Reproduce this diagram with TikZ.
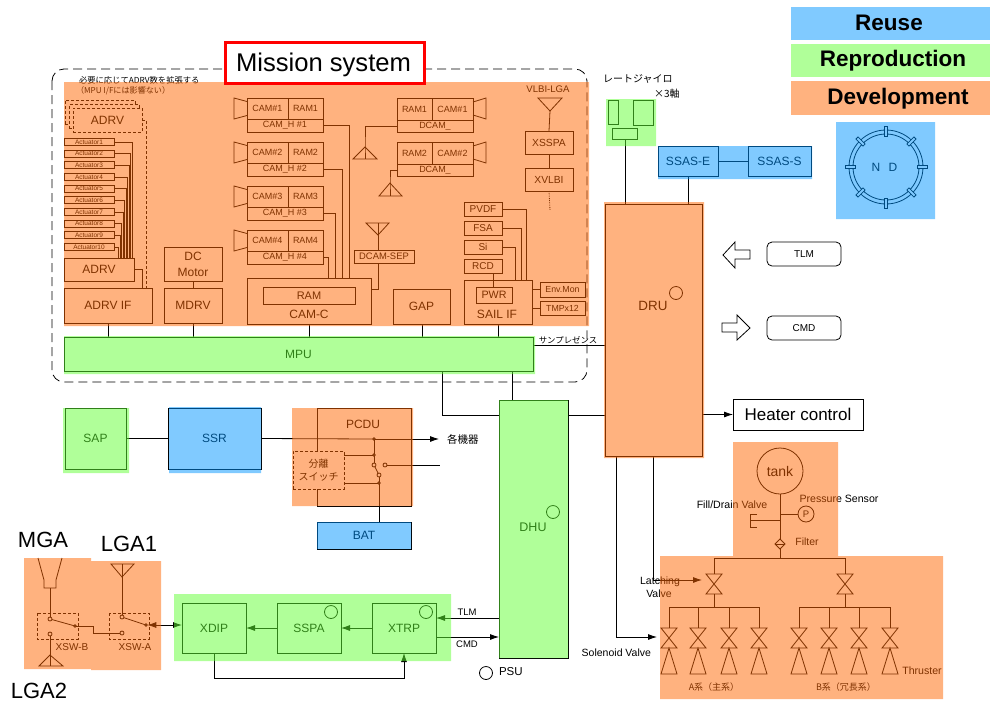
\documentclass[tikz,border=0pt]{standalone}
\usepackage{fontspec}
\setmainfont{Liberation Sans}
\newfontfamily\jp{Noto Sans CJK JP}
\usetikzlibrary{arrows.meta,calc}
\newcommand\fs[1]{\fontsize{#1}{#1}\selectfont}
\definecolor{ovO}{HTML}{FF6500}
\definecolor{ovG}{HTML}{61FF33}
\definecolor{ovB}{HTML}{0195FF}
\tikzset{
 bx/.style={draw,rectangle,inner sep=0pt,outer sep=0pt,align=center,font=\fs{12}},
 lbl/.style={inner sep=0pt,outer sep=0pt,align=center},
 sw/.style={draw,circle,fill=white,inner sep=0pt,minimum size=4pt,outer sep=0pt},
 dot/.style={draw,circle,fill=white,inner sep=0pt,minimum size=2.6pt,outer sep=0pt},
 ring/.style={draw,circle,inner sep=0pt,minimum size=13pt,outer sep=0pt},
 tip/.style={-{Latex[length=9pt,width=6pt]}},
 ovo/.style={fill=ovO,fill opacity=.5,draw=none},
 ovg/.style={fill=ovG,fill opacity=.5,draw=none},
 ovb/.style={fill=ovB,fill opacity=.5,draw=none},
 legend/.style={inner sep=0pt,font=\bfseries\fs{22.5}},
}
\newcommand\bx[7][]{\node[bx,#1,minimum width={((#5)-(#3))*1pt},minimum height={((#6)-(#4))*1pt}] (#2) at ({((#3)+(#5))/2},{((#4)+(#6))/2}) {#7};}
\begin{document}
\begin{tikzpicture}[x=1pt,y=-1pt,line width=.8pt]
\useasboundingbox (0,0) rectangle (994,702);
% mission outline
\draw[dash pattern=on 9pt off 5pt,rounded corners=12pt] (52,69) rectangle (587,382);
\node[lbl,font=\jp\fs{8.3},anchor=west] (note1) at (79,80) {必要に応じてADRV数を拡張する};
\node[lbl,font=\jp\fs{8.1},anchor=west] (note2) at (76,91) {（MPU I/Fには影響ない）};
% ADRV stack
\bx[fill=white,densely dashed]{adrvc}{65}{100}{135}{124}{}
\bx[fill=white,densely dashed]{adrvb}{69}{104.5}{139}{128}{}
\bx[fill=white,densely dashed]{adrva}{73}{108}{142}{132}{ADRV}
% actuators and drive
\bx{adrv}{64}{258}{134}{281}{ADRV}
\bx{adrvif}{64}{288}{152}{323}{ADRV IF}
\foreach \i/\y/\wx in {1/142/132,2/153.7/130.5,3/165.3/129,4/177/127.5,5/188.7/126,6/200.3/124.5,7/212/123,8/223.7/121.5,9/235.3/120,10/247/118.5}{
 \bx[font=\fs{6.5}]{act\i}{64}{\y-3.5}{114}{\y+3.5}{Actuator\i}
 \draw (act\i.east) -| (\wx,0 |- adrv.north);
}
\draw (adrv.east) -| (142,0 |- adrvif.north);
\draw[densely dashed] (adrva.east) -| (146,0 |- adrvif.north);
\bx{dcm}{164}{247}{222}{281}{DC\\[4pt]Motor}
\bx{mdrv}{164}{288}{222}{323}{MDRV}
\draw (dcm.south) -- (mdrv.north);
\bx{mpu}{64}{337}{533}{371}{MPU}
\draw (108,0 |- adrvif.south) -- (108,0 |- mpu.north);
\draw (193,0 |- mdrv.south) -- (193,0 |- mpu.north);
% CAM heads
\foreach \n/\y in {1/98,2/142,3/186,4/230}{
 \bx[font=\fs{9}]{cam\n}{247}{\y}{288}{\y+21}{CAM\#\n}
 \bx[font=\fs{9}]{ram\n}{288}{\y}{323}{\y+21}{RAM\n}
 \bx[font=\fs{9}]{camh\n}{247}{\y+21}{323}{\y+34}{CAM\_H \#\n}
 \draw (cam\n.north west)++(0,3.5) -- ++(-13,-3.5) -- ++(0,21) -- ++(13,-3.5);
}
\bx{camc}{247}{278}{371}{324}{}
\bx[font=\fs{11}]{camram}{263}{287}{355}{304}{RAM}
\node[lbl,font=\fs{12}] (camclab) at (309,314) {CAM-C};
\draw (camh1.east) -| (349,0 |- camc.north);
\draw (camh2.east) -| (342,0 |- camc.north);
\draw (camh3.east) -| (335,0 |- camc.north);
\draw (camh4.east) -| (328,0 |- camc.north);
\draw (camc.south) -- (309,0 |- mpu.north);
% DCAM
\foreach \n/\y in {1/98,2/142}{
 \bx[font=\fs{9}]{dram\n}{397}{\y}{432}{\y+22}{RAM\n}
 \bx[font=\fs{9}]{dcam\n}{432}{\y}{473}{\y+22}{CAM\#\n}
 \bx[font=\fs{9}]{dcamh\n}{397}{\y+22}{473}{\y+34}{DCAM\_}
 \draw (dcam\n.north east)++(0,4) -- ++(13,-4) -- ++(0,21) -- ++(-13,-4);
}
\coordinate (ant1) at (365,147);
\coordinate (ant2) at (390,183);
\draw (dcamh1.west) -| (ant1) -- (365,159);
\draw (ant1) -- (353,159) -- (377,159) -- cycle;
\draw (dcamh2.west) -| (ant2) -- (390,196);
\draw (ant2) -- (379,196) -- (402,196) -- cycle;
\bx[font=\fs{9.4}]{dsep}{354}{250}{414}{263}{DCAM-SEP}
\coordinate (ant3) at (378,235);
\draw (ant3) -- (366,223) -- (389,223) -- cycle;
\draw (378,223) -- (378,0 |- dsep.north);
\coordinate (dsepc) at (371,289);
\draw (378,0 |- dsep.south) |- (dsepc);
% GAP
\bx{gap}{393}{289}{450}{324}{GAP}
\draw (422,0 |- gap.south) -- (422,0 |- mpu.north);
% SAIL
\bx{sail}{464}{280}{532}{324}{}
\bx[font=\fs{10.7}]{pwr}{476}{287}{512}{303}{PWR}
\node[lbl,font=\fs{12}] (saillab) at (497,314) {SAIL IF};
\draw (498,0 |- sail.south) -- (498,0 |- mpu.north);
\bx[font=\fs{10}]{rcd}{464}{259}{502}{273}{RCD}
\bx[font=\fs{10}]{si}{464}{240}{502}{254}{Si}
\bx[font=\fs{10}]{fsa}{464}{221}{502}{235}{FSA}
\bx[font=\fs{10}]{pvdf}{464}{202}{502}{216}{PVDF}
\draw (493,0 |- rcd.south) -- (493,0 |- pwr.north);
\draw (si.east) -| (515,0 |- sail.north);
\draw (fsa.east) -| (521,0 |- sail.north);
\draw (pvdf.east) -| (526,0 |- sail.north);
\bx[font=\fs{8.8}]{env}{540}{282}{585}{297}{Env.Mon}
\bx[font=\fs{8.8}]{tmp}{540}{301}{585}{315}{TMPx12}
\draw (env.west) -- (sail.east |- env.west);
\draw (tmp.west) -- (sail.east |- tmp.west);
% VLBI
\node[lbl,font=\fs{9.6}] (vlbi) at (548,89) {VLBI-LGA};
\bx[font=\fs{10.3}]{xsspa}{525}{131}{573}{154}{XSSPA}
\bx[font=\fs{10.3}]{xvlbi}{525}{168}{573}{191}{XVLBI}
\coordinate (ant4) at (550,111);
\draw (ant4) -- (538,98) -- (562,98) -- cycle;
\draw (ant4) -- (xsspa.north);
\draw (xsspa.south) -- (xvlbi.south |- xvlbi.north);
\coordinate (xend) at (550,210);
\draw[densely dotted] (xvlbi.south) -- (xend);
% DRU DHU
\bx[font=\fs{13.4}]{dru}{605}{204}{702}{456}{}
\node[lbl,font=\fs{13.4}] (drulab) at (653,306) {DRU};
\node[ring] (drur) at (676,293) {};
\bx[font=\fs{12.5}]{dhu}{499}{400}{568}{658}{}
\node[lbl,font=\fs{12.5}] (dhulab) at (533,527) {DHU};
\node[ring] (dhur) at (553,512) {};
\draw (mpu.east |- 0,345) -- (dru.west |- 0,345);
\node[lbl,font=\jp\fs{8.4}] (samp) at (568,340) {サンプレゼンス};
\draw (442,0 |- mpu.south) |- (dhu.west |- 0,415);
\draw (512,0 |- mpu.south) -- (512,0 |- dhu.north);
\draw (dhu.east |- 0,415) -- (dru.west |- 0,415);
% rate gyro
\node[lbl,font=\jp\fs{10},anchor=west] (gyro) at (603,79) {レートジャイロ};
\node[lbl,font=\jp\fs{10},anchor=west] (gyro3) at (654,94) {×3軸};
\bx{rg1}{608}{100}{618}{124}{}
\bx{rg2}{633}{100}{653}{125}{}
\bx{rg3}{612}{128}{637}{139}{}
\draw (625,0 |- rg3.south) -- (625,0 |- dru.north);
% SSAS
\bx{ssase}{658}{146}{718}{176}{SSAS-E}
\bx{ssass}{748}{146}{811}{176}{SSAS-S}
\draw (ssase.east) -- (ssass.west);
\draw (688,0 |- ssase.south) -- (688,0 |- dru.north);
% ND
\coordinate (ndc) at (886,167);
\draw (ndc) circle (37) (ndc) circle (33);
\foreach \a in {0,45,...,315}{
 \draw[fill=white,rotate around={\a:(ndc)}] (884.5,126) rectangle (887.5,136);
}
\node[lbl,font=\fs{12}] (ndn) at (876,167) {N};
\node[lbl,font=\fs{12}] (ndd) at (893,167) {D};
% TLM CMD
\draw (723,255) -- (735,242) -- (735,250) -- (750,250) -- (750,259) -- (735,259) -- (735,268) -- cycle;
\draw (722,323) -- (737,323) -- (737,315) -- (750,328) -- (737,340) -- (737,332) -- (722,332) -- cycle;
\bx[rounded corners=5pt,font=\fs{10}]{tlmr}{767}{242}{841}{266}{TLM}
\bx[rounded corners=5pt,font=\fs{10}]{cmdr}{767}{316}{841}{340}{CMD}
\bx[font=\fs{17}]{heat}{733}{399}{863}{430}{Heater control}
\draw[tip] (dru.east |- heat.west) -- (heat.west);
% SAP SSR PCDU BAT
\bx{sap}{65}{408}{126}{469}{SAP}
\bx{ssr}{168}{408}{261}{469}{SSR}
\draw (sap.east) -- (ssr.west);
\bx{pcdu}{317}{408}{411}{506}{}
\node[lbl,font=\fs{12}] (pcdulab) at (363,424) {PCDU};
\bx[font=\jp\fs{10},fill=white,densely dashed]{sepsw}{293}{451}{344}{489}{分離\\[3pt]スイッチ}
\bx{bat}{317}{522}{411}{549}{BAT}
\coordinate (pout) at (439,439);
\node[lbl,font=\jp\fs{10.5},anchor=west] (devs) at (447,439) {各機器};
\node[dot] (pd1) at (374,439) {};
\node[dot] (pd2) at (374,455) {};
\node[sw] (ps1) at (374,465) {};
\node[sw] (ps2) at (379,475) {};
\node[sw] (ps3) at (385,465) {};
\node[dot] (pd3) at (379,483) {};
\draw (ssr.east) -- (pd1.west);
\draw[tip] (pd1.east) -- (pout);
\draw (pd1.south) -- (pd2.north);
\draw (pd2.south) -- (ps1.north);
\draw (ps1) -- (ps2);
\draw (ps2.south) -- (pd3.north);
\draw (pd3.south) -- (379,0 |- bat.north);
\draw (sepsw.east |- pd2) -- (pd2.west);
\draw (sepsw.east |- pd3) -- (pd3.west);
\coordinate (pr) at (440,465);
\draw (ps3.east) -- (pr);
% RF
\node[lbl,font=\fs{22}] (mga) at (43,540) {MGA};
\node[lbl,font=\fs{22}] (lga1) at (129,544) {LGA1};
\node[lbl,font=\fs{22}] (lga2) at (39,691) {LGA2};
\draw (38,558) -- (44,580) -- (44,588) -- (56,588) -- (56,580) -- (62,558);
\draw[densely dashed] (37,613) rectangle (78,639);
\draw[densely dashed] (109,613) rectangle (149,639);
\node[sw] (b1) at (50,619) {};
\node[sw] (b2) at (50,634) {};
\node[dot] (b3) at (75,626) {};
\node[sw] (a1) at (122,617) {};
\node[sw] (a2) at (122,633) {};
\node[dot] (a3) at (146,625) {};
\coordinate (mgab) at (50,588);
\coordinate (lga2a) at (50,655);
\coordinate (lga1a) at (122,577);
\draw (mgab) -- (b1.north);
\draw (b1) -- (b3);
\draw (a1) -- (a3);
\draw (b2.south) -- (50,666);
\draw (lga2a) -- (39,666) -- (63,666) -- cycle;
\draw (a1.north) -- (122,564);
\draw (lga1a) -- (111,564) -- (134,564) -- cycle;
\draw (b3.east) -| (93,633) -- (a2.west);
\node[lbl,font=\fs{10}] (xswb) at (72,647) {XSW-B};
\node[lbl,font=\fs{10}] (xswa) at (135,647) {XSW-A};
\bx{xdip}{182}{603}{246}{653}{XDIP}
\bx{sspa}{277}{603}{341}{653}{SSPA}
\bx{xtrp}{372}{603}{436}{653}{XTRP}
\node[ring] (sspar) at (331,612) {};
\node[ring] (xtrpr) at (426,612) {};
\draw[{Latex[length=9pt,width=6pt]}-{Latex[length=9pt,width=6pt]}] (a3.east) -- (xdip.west |- a3.east);
\draw[tip] (xtrp.west) -- (sspa.east);
\draw[tip] (sspa.west) -- (xdip.east);
\draw[tip] (214,0 |- xdip.south) |- (404,678) -- (404,0 |- xtrp.south);
\draw[tip] (dhu.west |- 0,618) -- (xtrp.east |- 0,618);
\draw[tip] (xtrp.east |- 0,637) -- (dhu.west |- 0,637);
\node[lbl,font=\fs{9.5}] (tlml) at (467,612) {TLM};
\node[lbl,font=\fs{9.5}] (cmdl) at (467,644) {CMD};
\node[ring] (psur) at (486,673) {};
\node[lbl,font=\fs{11.5},anchor=west] (psu) at (499,672) {PSU};
% propulsion
\node[draw,circle,minimum size=46pt,inner sep=0pt,outer sep=0pt,font=\fs{14}] (tank) at (780,471) {tank};
\node[draw,circle,minimum size=16pt,inner sep=0pt,outer sep=0pt,font=\fs{9.5}] (pres) at (806,514) {P};
\coordinate (fj) at (780,514);
\coordinate (dj) at (780,520);
\coordinate (busj) at (780,558);
\draw (tank.south) -- (busj);
\draw (fj) -- (pres.west);
\draw (dj) -- (750,520);
\draw (757,514) -- (750,514) -- (750,527) -- (757,527);
\draw[fill=white] (780,539) -- (785,544) -- (780,549) -- (775,544) -- cycle;
\draw (775,544) -- (785,544);
\node[lbl,font=\fs{10.6}] (fdv) at (732,505) {Fill/Drain Valve};
\node[lbl,font=\fs{10.6}] (psens) at (839,499) {Pressure Sensor};
\node[lbl,font=\fs{10.5}] (filt) at (807,542) {Filter};
\node[lbl,font=\fs{10.5}] (latch) at (660,582) {Latching};
\node[lbl,font=\fs{10.5}] (lval) at (659,594) {Valve};
\draw (714,574) |- (845,558) -- (845,574);
\foreach \x in {714,845}{
 \draw (\x-8,574) -- (\x+8,574) -- (\x-8,594) -- (\x+8,594) -- cycle;
 \draw (\x,594) -- (\x,607);
}
\draw (669,607) -- (759,607);
\draw (799,607) -- (890,607);
\foreach \x in {669,698,729,759,799,829,859,890}{
 \draw (\x,607) -- (\x,628);
 \draw (\x-8,628) -- (\x+8,628) -- (\x-8,648) -- (\x+8,648) -- cycle;
 \draw (\x,648) -- (\x-8,674) -- (\x+8,674) -- cycle;
}
\coordinate (sol) at (657,637);
\coordinate (lat) at (702,580);
\draw[tip] (616,0 |- dru.south) |- (sol);
\draw[tip] (653,0 |- dru.south) |- (lat);
\node[lbl,font=\jp\fs{9}] (asys) at (714,687) {A系（主系）};
\node[lbl,font=\jp\fs{9}] (bsys) at (846,687) {B系（冗長系）};
\node[lbl,font=\fs{10.6}] (thr) at (922,671) {Thruster};
\node[lbl,font=\fs{10.5},anchor=east] (solv) at (651,653) {Solenoid Valve};
% colour overlays
\path[ovo] (64,82) rectangle (589,326)
 (604,202) rectangle (704,458)
 (292,408) rectangle (413,506)
 (24,558) rectangle (91,669)
 (91,561) rectangle (161,670)
 (733,442) rectangle (838,556)
 (660,556) rectangle (943,699);
\path[ovg] (64,336) rectangle (535,374)
 (63,408) rectangle (129,473)
 (499,400) rectangle (568,658)
 (174,594) rectangle (451,661)
 (606,99) rectangle (656,146);
\path[ovb] (658,146) rectangle (812,179)
 (836,122) rectangle (935,219)
 (169,407) rectangle (261,473)
 (317,522) rectangle (411,549);
% legend and title
\node[fill=ovB,fill opacity=.5,minimum width=199pt,minimum height=33pt,inner sep=0pt] (lr) at (890.5,23.5) {};
\node[fill=ovG,fill opacity=.5,minimum width=199pt,minimum height=33pt,inner sep=0pt] (lg) at (890.5,60.5) {};
\node[fill=ovO,fill opacity=.5,minimum width=199pt,minimum height=34pt,inner sep=0pt] (lo) at (890.5,98) {};
\node[legend] (t1) at (889,23) {Reuse};
\node[legend] (t2) at (893,60.5) {Reproduction};
\node[legend] (t3) at (898,98.5) {Development};
\node[draw=red,line width=3pt,fill=white,minimum width=199pt,minimum height=41pt,inner sep=0pt] (title) at (324.5,62.5) {};
\node[lbl,font=\fs{25.6}] (titlet) at (323.5,64.5) {Mission system};
\end{tikzpicture}
\end{document}
